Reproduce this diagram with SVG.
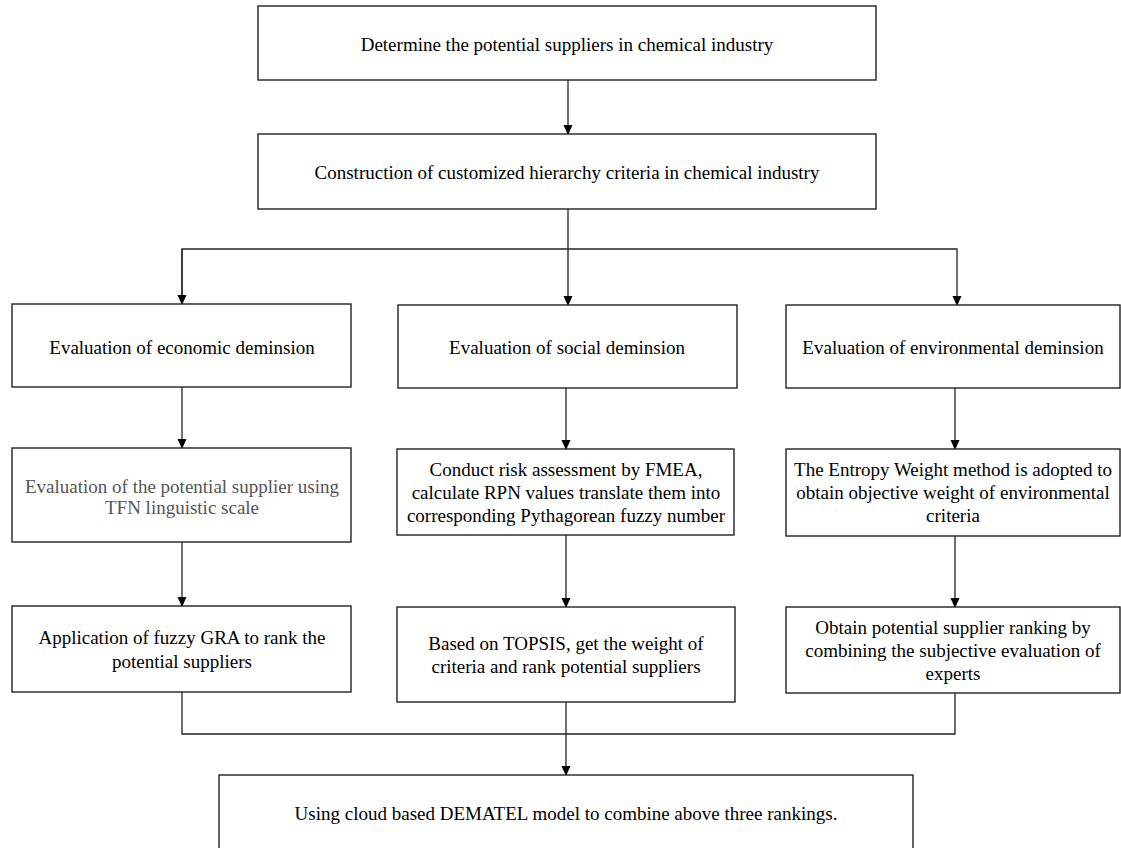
<svg xmlns="http://www.w3.org/2000/svg" width="1121" height="848" viewBox="0 0 1121 848">
<defs>
<marker id="ah" markerWidth="10" markerHeight="10" refX="9" refY="5" orient="auto" markerUnits="userSpaceOnUse" viewBox="0 0 10 10">
<path d="M0,0.5 L10,5 L0,9.5 z" fill="#000"/>
</marker>
<style>
.box{fill:#fff;stroke:#222;stroke-width:1.4}
.t{font-family:"Liberation Serif","Times New Roman",serif;font-size:19px;fill:#000;text-anchor:middle;dominant-baseline:central}
.g{fill:#555}
.c{fill:none;stroke:#222;stroke-width:1.3}
</style>
</defs>
<rect width="1121" height="848" fill="#fff"/>
<g id="connectors">
<line class="c" x1="568" y1="80" x2="568" y2="134" marker-end="url(#ah)"/>
<polyline class="c" points="568,209 568,249"/>
<polyline class="c" points="182,304 182,249 957,249 957,305" marker-end="url(#ah)"/>
<line class="c" x1="182" y1="249" x2="182" y2="304" marker-end="url(#ah)"/>
<line class="c" x1="568" y1="249" x2="568" y2="305" marker-end="url(#ah)"/>
<line class="c" x1="182" y1="387" x2="182" y2="448" marker-end="url(#ah)"/>
<line class="c" x1="566" y1="388" x2="566" y2="449" marker-end="url(#ah)"/>
<line class="c" x1="955" y1="388" x2="955" y2="449" marker-end="url(#ah)"/>
<line class="c" x1="182" y1="542" x2="182" y2="606" marker-end="url(#ah)"/>
<line class="c" x1="566" y1="535" x2="566" y2="607" marker-end="url(#ah)"/>
<line class="c" x1="955" y1="536" x2="955" y2="607" marker-end="url(#ah)"/>
<polyline class="c" points="182,692 182,734 955,734 955,693"/>
<line class="c" x1="566" y1="702" x2="566" y2="775" marker-end="url(#ah)"/>
</g>
<g id="n1"><rect class="box" x="258" y="6" width="618" height="74"/><text class="t" x="567" y="44">Determine the potential suppliers in chemical industry</text></g>
<g id="n2"><rect class="box" x="258" y="134" width="618" height="75"/><text class="t" x="567" y="172">Construction of customized hierarchy criteria in chemical industry</text></g>
<g id="n3"><rect class="box" x="12" y="304" width="339" height="83"/><text class="t" x="182" y="347">Evaluation of economic deminsion</text></g>
<g id="n4"><rect class="box" x="398" y="305" width="339" height="83"/><text class="t" x="567" y="347">Evaluation of social deminsion</text></g>
<g id="n5"><rect class="box" x="786" y="305" width="334" height="83"/><text class="t" x="953" y="347">Evaluation of environmental deminsion</text></g>
<g id="n6"><rect class="box" x="12" y="448" width="339" height="94"/><text class="t g" x="182" y="486">Evaluation of the potential supplier using</text><text class="t g" x="182" y="507">TFN linguistic scale</text></g>
<g id="n7"><rect class="box" x="397" y="449" width="337" height="86"/><text class="t" x="566" y="469">Conduct risk assessment by FMEA,</text><text class="t" x="566" y="492">calculate RPN values translate them into</text><text class="t" x="566" y="515">corresponding Pythagorean fuzzy number</text></g>
<g id="n8"><rect class="box" x="786" y="449" width="334" height="87"/><text class="t" x="953" y="469">The Entropy Weight method is adopted to</text><text class="t" x="953" y="492">obtain objective weight of environmental</text><text class="t" x="953" y="515">criteria</text></g>
<g id="n9"><rect class="box" x="12" y="606" width="339" height="86"/><text class="t" x="182" y="637">Application of fuzzy GRA to rank the</text><text class="t" x="182" y="661">potential suppliers</text></g>
<g id="n10"><rect class="box" x="397" y="607" width="338" height="95"/><text class="t" x="566" y="643">Based on TOPSIS, get the weight of</text><text class="t" x="566" y="666">criteria and rank potential suppliers</text></g>
<g id="n11"><rect class="box" x="786" y="607" width="334" height="86"/><text class="t" x="953" y="627">Obtain potential supplier ranking by</text><text class="t" x="953" y="650">combining the subjective evaluation of</text><text class="t" x="953" y="673">experts</text></g>
<g id="n12"><rect class="box" x="219" y="775" width="694" height="80"/><text class="t" x="566" y="813">Using cloud based DEMATEL model to combine above three rankings.</text></g>
</svg>
